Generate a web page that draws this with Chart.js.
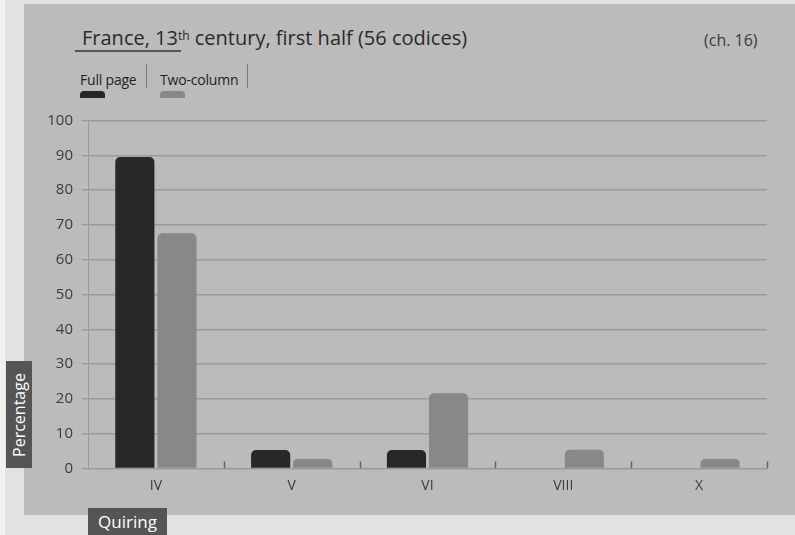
<!DOCTYPE html>
<html>
<head>
<meta charset="utf-8">
<title>Quiring, France 13th c.</title>
<script src="https://cdn.jsdelivr.net/npm/chart.js@4/dist/chart.umd.min.js"></script>
<style>
  html, body { margin: 0; padding: 0; }
  body {
    width: 795px; height: 535px; overflow: hidden; position: relative;
    background: #f0f0f0; font-family: "Open Sans", sans-serif;
  }
  .frame { position: absolute; left: 5px; top: 0; width: 790px; height: 535px; background: #e2e2e2; }
  .panel { position: absolute; left: 24px; top: 4px; width: 771px; height: 511px; background: #bbbbbb; }
  .title {
    position: absolute; left: 82px; top: 24px; font-size: 20px; color: #2a2a2a;
    white-space: nowrap;
  }
  .title sup { font-size: 12px; vertical-align: 5px; line-height: 0; }
  .title-rule { position: absolute; left: 75px; top: 50px; width: 106px; height: 1.5px; background: #555; }
  .chapter { position: absolute; left: 704px; top: 29px; font-size: 16px; color: #3a3a3a; }
  .legend-item { position: absolute; top: 70px; font-size: 14px; color: #1e1e1e; white-space: nowrap; letter-spacing: -0.2px; }
  .legend-sep { position: absolute; top: 64px; width: 1px; height: 24px; background: #777; }
  .legend-swatch { position: absolute; top: 91px; width: 25px; height: 7px; border-radius: 4px 4px 0 0; }
  .tag {
    position: absolute; background: #555; color: #fff; font-size: 16px;
    display: flex; align-items: center; justify-content: center;
  }
  .tag-y { left: 6px; top: 361px; width: 26px; height: 107px; }
  .tag-y span { transform: rotate(-90deg); white-space: nowrap; }
  .tag-x { left: 88px; top: 508px; width: 79px; height: 27px; font-size: 17px; }
  #chart { position: absolute; left: 24px; top: 100px; }
</style>
</head>
<body>
<div class="frame"></div>
<div class="panel"></div>
<div class="title">France, 13<sup>th</sup> century, first half (56 codices)</div>
<div class="title-rule"></div>
<div class="chapter">(ch. 16)</div>
<div id="legend"></div>
<div class="tag tag-y"><span>Percentage</span></div>
<div class="tag tag-x">Quiring</div>
<canvas id="chart" width="771" height="400"></canvas>

<script>
// Quire types on the x axis
const quiring = ['IV', 'V', 'VI', 'VIII', 'X'];
// Share of codices per quire type, in percent
const fullPage = [89.5, 5.3, 5.3, 0, 0];
const twoColumn = [67.6, 2.7, 21.6, 5.4, 2.7];
const yTicks = [0, 10, 20, 30, 40, 50, 60, 70, 80, 90, 100];

const series = [
  { label: 'Full page', data: fullPage, color: '#282828', x: 80, sep: 146 },
  { label: 'Two-column', data: twoColumn, color: '#888888', x: 160, sep: 247 },
];

// Hand-made legend above the plot
const legend = document.getElementById('legend');
series.forEach(s => {
  legend.insertAdjacentHTML('beforeend', `
    <div class="legend-item" style="left:${s.x}px">${s.label}</div>
    <div class="legend-sep" style="left:${s.sep}px"></div>
    <div class="legend-swatch" style="left:${s.x}px;background:${s.color}"></div>
  `);
});

// Short upward ticks between categories on the baseline
const categoryTicks = {
  id: 'categoryTicks',
  afterDatasetsDraw(chart) {
    const { ctx, scales: { x, y } } = chart;
    const base = y.getPixelForValue(0);
    ctx.save();
    ctx.strokeStyle = '#666';
    ctx.lineWidth = 1.5;
    for (let i = 0; i < quiring.length; i++) {
      const left = x.getPixelForValue(i);
      const next = i + 1 < quiring.length ? x.getPixelForValue(i + 1) : left + (left - x.getPixelForValue(i - 1));
      const px = Math.round((left + next) / 2) + 0.5;
      ctx.beginPath();
      ctx.moveTo(px, base - 7);
      ctx.lineTo(px, base);
      ctx.stroke();
    }
    ctx.restore();
  }
};

new Chart(document.getElementById('chart'), {
  type: 'bar',
  data: {
    labels: quiring,
    datasets: series.map(s => ({
      label: s.label,
      data: s.data,
      backgroundColor: s.color,
      borderWidth: 0,
      borderRadius: 5,
      borderSkipped: 'start',
      categoryPercentage: 0.62,
      barPercentage: 0.93
    }))
  },
  options: {
    responsive: false,
    animation: false,
    layout: { padding: { top: 20.5, right: 28, left: 0, bottom: 0 } },
    plugins: {
      legend: { display: false },
      tooltip: { enabled: false }
    },
    scales: {
      x: {
        grid: { display: false, drawTicks: false },
        border: { display: false },
        ticks: { color: '#3c3c3c', padding: 9, font: { family: 'Open Sans', size: 14 } },
        afterFit: scale => { scale.height = 31.5; }
      },
      y: {
        min: 0,
        max: 100,
        afterBuildTicks: scale => { scale.ticks = yTicks.map(v => ({ value: v })); },
        grid: { color: '#9a9a9a', lineWidth: 1.5, tickLength: 6, tickColor: '#9a9a9a' },
        border: { display: true, color: '#9a9a9a', width: 1 },
        ticks: { color: '#3c3c3c', padding: 9, font: { family: 'Open Sans', size: 15 } },
        afterFit: scale => { scale.width = 64; }
      }
    }
  },
  plugins: [categoryTicks]
});
</script>
</body>
</html>
